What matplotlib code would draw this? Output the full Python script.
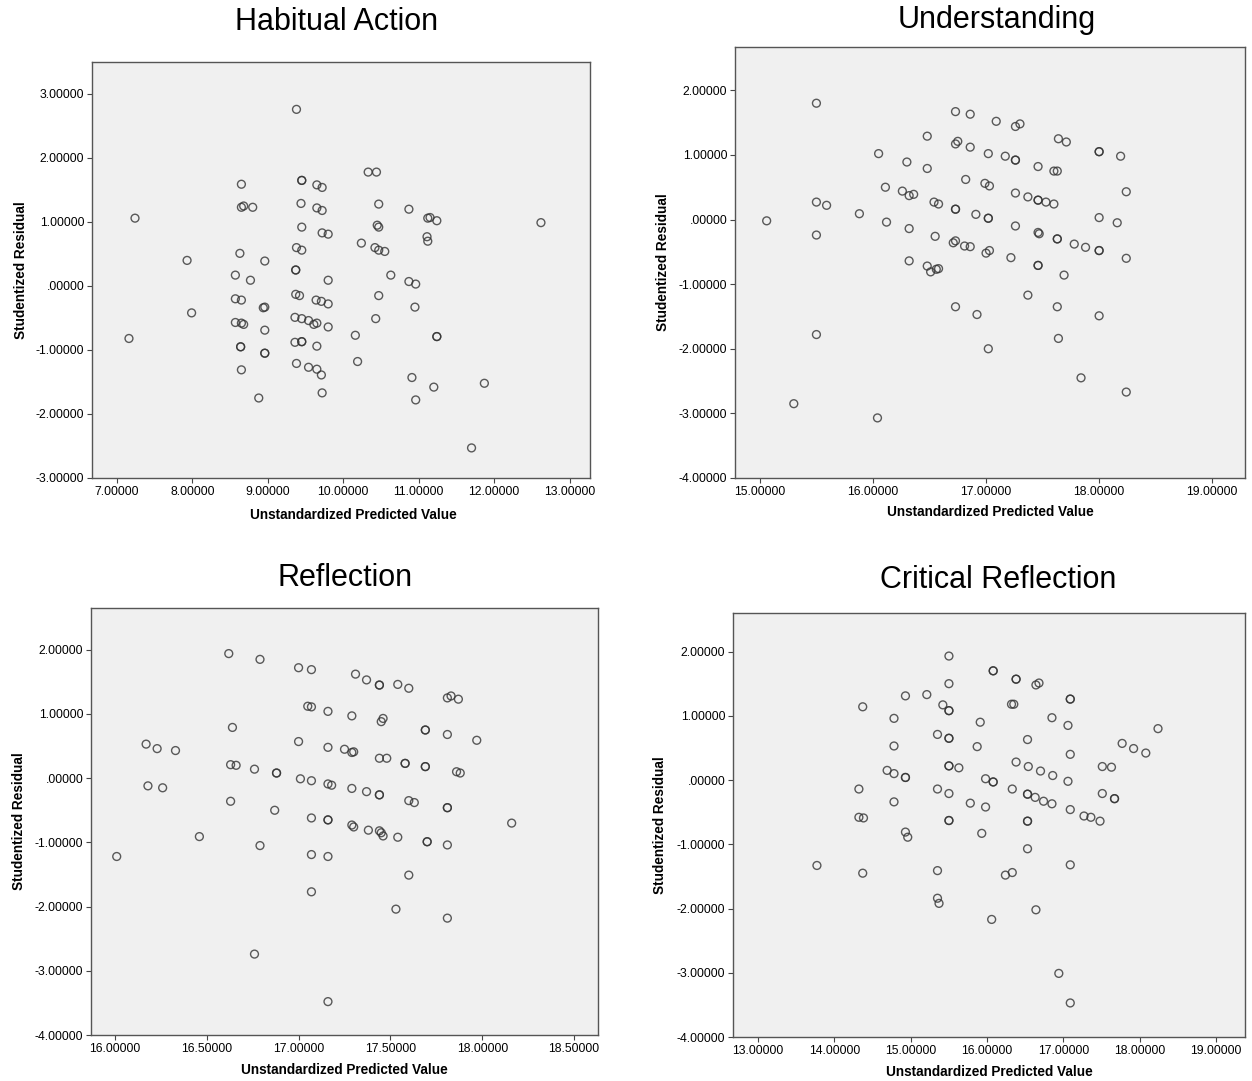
import numpy as np
import matplotlib
matplotlib.use("Agg")
import matplotlib.pyplot as plt
from matplotlib.ticker import FuncFormatter, MultipleLocator

plt.rcParams['font.family'] = ['Liberation Sans', 'DejaVu Sans']

# Habitual Action: predicted value vs studentized residual
ha_pred = [8.65, 8.65, 8.68, 8.80, 7.24, 8.63, 7.93, 8.57, 8.77, 8.57, 8.65, 7.99, 8.57, 8.65,
           8.68, 7.16, 8.64, 8.64, 8.65, 8.88, 9.38, 9.45, 9.45, 9.65, 9.72, 10.33, 10.44, 9.44,
           9.65, 9.72, 10.47, 10.87, 11.12, 9.45, 9.72, 9.80, 10.45, 10.47, 11.11, 11.12, 10.24,
           9.38, 9.45, 10.42, 10.47, 10.55, 8.96, 9.37, 9.37, 9.80, 10.63, 10.87, 10.96, 8.94,
           8.96, 9.37, 9.42, 9.64, 9.71, 9.80, 10.47, 10.95, 8.96, 9.36, 9.45, 9.54, 9.61, 9.65,
           9.80, 10.43, 10.16, 9.36, 9.45, 9.45, 9.65, 8.96, 8.96, 9.38, 9.54, 9.65, 9.71, 10.19,
           10.91, 9.72, 10.96, 11.15, 11.24, 12.62, 11.24, 11.24, 11.20, 11.87, 11.70]
ha_resid = [1.59, 1.23, 1.25, 1.23, 1.06, 0.51, 0.40, 0.17, 0.09, -0.20, -0.22, -0.42, -0.57, -0.58,
            -0.60, -0.82, -0.95, -0.95, -1.31, -1.75, 2.76, 1.65, 1.65, 1.58, 1.54, 1.78, 1.78, 1.29,
            1.22, 1.18, 1.28, 1.20, 1.06, 0.92, 0.83, 0.81, 0.95, 0.92, 0.77, 0.70, 0.67,
            0.60, 0.56, 0.60, 0.56, 0.54, 0.39, 0.25, 0.25, 0.09, 0.17, 0.07, 0.03, -0.34,
            -0.33, -0.13, -0.15, -0.22, -0.24, -0.28, -0.15, -0.33, -0.69, -0.49, -0.51, -0.54, -0.60, -0.58,
            -0.64, -0.51, -0.77, -0.88, -0.87, -0.87, -0.94, -1.05, -1.05, -1.21, -1.27, -1.30, -1.39, -1.18,
            -1.43, -1.67, -1.78, 1.07, 1.02, 0.99, -0.79, -0.79, -1.58, -1.52, -2.53]

# Understanding
un_pred = [15.50, 15.50, 15.59, 15.06, 15.88, 15.50, 15.50, 15.30, 16.73, 16.86, 17.09, 16.48,
           16.73, 16.75, 16.86, 17.02, 17.17, 16.05, 16.30, 16.48, 16.82, 16.99, 17.03, 16.11,
           16.26, 16.32, 16.36, 16.54, 16.58, 16.73, 16.73, 16.91, 17.02, 17.02, 16.12, 16.32,
           16.55, 16.71, 16.73, 16.81, 16.86, 17.00, 17.03, 16.32, 16.48, 16.51, 16.56, 16.58,
           16.73, 16.92, 17.02, 16.04, 17.26, 17.30, 17.64, 17.71, 18.00, 18.00, 18.19, 17.26,
           17.26, 17.46, 17.60, 17.63, 18.24, 17.26, 17.37, 17.46, 17.46, 17.53, 17.60, 18.00,
           18.16, 17.26, 17.46, 17.47, 17.63, 17.63, 17.78, 17.88, 18.00, 18.00, 17.22, 17.46,
           17.46, 18.24, 17.69, 17.37, 17.63, 18.00, 17.64, 17.84, 18.24]
un_resid = [1.80, 0.27, 0.22, -0.02, 0.09, -0.24, -1.78, -2.85, 1.67, 1.63, 1.52, 1.29,
            1.17, 1.21, 1.12, 1.02, 0.98, 1.02, 0.89, 0.79, 0.62, 0.56, 0.52, 0.50,
            0.44, 0.37, 0.39, 0.27, 0.24, 0.16, 0.16, 0.08, 0.02, 0.02, -0.04, -0.14,
            -0.26, -0.36, -0.33, -0.41, -0.42, -0.52, -0.48, -0.64, -0.72, -0.81, -0.77, -0.76,
            -1.35, -1.47, -2.00, -3.07, 1.44, 1.48, 1.25, 1.20, 1.05, 1.05, 0.98, 0.92,
            0.92, 0.82, 0.75, 0.75, 0.43, 0.41, 0.35, 0.30, 0.30, 0.27, 0.24, 0.03,
            -0.05, -0.10, -0.20, -0.22, -0.30, -0.30, -0.38, -0.43, -0.48, -0.48, -0.59, -0.71,
            -0.71, -0.60, -0.86, -1.17, -1.35, -1.49, -1.84, -2.45, -2.67]

# Reflection
re_pred = [16.62, 16.64, 16.17, 16.23, 16.33, 16.63, 16.66, 16.18, 16.26, 16.63, 16.46, 16.01,
           16.79, 17.00, 17.07, 17.31, 17.37, 17.05, 17.07, 17.16, 17.29, 17.00, 17.16, 17.25,
           17.29, 17.30, 16.76, 16.88, 16.88, 17.01, 17.07, 17.16, 17.18, 17.29, 17.37, 16.87,
           17.07, 17.16, 17.16, 17.29, 17.30, 17.38, 16.79, 17.07, 17.16, 17.07, 16.76, 17.16,
           17.44, 17.44, 17.54, 17.60, 17.81, 17.83, 17.87, 17.45, 17.46, 17.69, 17.69, 17.81,
           17.97, 17.44, 17.48, 17.58, 17.58, 17.69, 17.69, 17.86, 17.88, 17.44, 17.44, 17.60,
           17.63, 17.81, 17.81, 18.16, 17.44, 17.45, 17.46, 17.54, 17.70, 17.70, 17.81, 17.60,
           17.53, 17.81]
re_resid = [1.94, 0.79, 0.53, 0.46, 0.43, 0.21, 0.20, -0.12, -0.15, -0.36, -0.91, -1.22,
            1.85, 1.72, 1.69, 1.62, 1.53, 1.12, 1.11, 1.04, 0.97, 0.57, 0.48, 0.45,
            0.40, 0.41, 0.14, 0.08, 0.08, -0.01, -0.04, -0.09, -0.11, -0.16, -0.21, -0.50,
            -0.62, -0.65, -0.65, -0.73, -0.76, -0.81, -1.05, -1.19, -1.22, -1.77, -2.74, -3.48,
            1.45, 1.45, 1.46, 1.40, 1.25, 1.28, 1.23, 0.88, 0.93, 0.75, 0.75, 0.68,
            0.59, 0.31, 0.31, 0.23, 0.23, 0.18, 0.18, 0.10, 0.08, -0.26, -0.26, -0.35,
            -0.38, -0.46, -0.46, -0.70, -0.82, -0.85, -0.90, -0.92, -0.99, -0.99, -1.04, -1.51,
            -2.04, -2.18]

# Critical Reflection
cr_pred = [14.93, 14.37, 14.78, 14.78, 14.69, 14.78, 14.93, 14.93, 14.32, 14.78, 14.32, 14.38,
           14.93, 14.96, 13.77, 14.37, 15.50, 16.08, 16.08, 16.38, 16.38, 16.64, 16.68, 15.50,
           15.21, 15.42, 15.50, 15.50, 16.32, 16.35, 15.91, 15.35, 15.50, 15.50, 15.87, 16.53,
           16.38, 16.54, 16.70, 15.50, 15.50, 15.63, 15.98, 16.08, 16.08, 16.33, 16.53, 16.53,
           16.63, 15.35, 15.50, 15.78, 15.98, 15.50, 15.50, 16.53, 16.53, 15.93, 16.53, 15.35,
           16.24, 16.33, 15.35, 15.37, 16.64, 16.06, 17.09, 17.09, 16.85, 17.06, 18.24, 17.77,
           17.92, 18.08, 17.09, 17.51, 17.63, 16.86, 17.06, 17.51, 17.67, 17.67, 16.74, 16.85,
           17.09, 17.27, 17.36, 17.48, 17.09, 16.94, 17.09]
cr_resid = [1.31, 1.14, 0.96, 0.53, 0.15, 0.10, 0.04, 0.04, -0.14, -0.34, -0.58, -0.59,
            -0.81, -0.89, -1.33, -1.45, 1.93, 1.70, 1.70, 1.57, 1.57, 1.48, 1.51, 1.50,
            1.33, 1.17, 1.08, 1.08, 1.18, 1.18, 0.90, 0.71, 0.65, 0.65, 0.52, 0.63,
            0.28, 0.21, 0.14, 0.22, 0.22, 0.19, 0.02, -0.03, -0.03, -0.14, -0.22, -0.22,
            -0.27, -0.14, -0.21, -0.36, -0.42, -0.63, -0.63, -0.64, -0.64, -0.83, -1.07, -1.41,
            -1.48, -1.44, -1.84, -1.92, -2.02, -2.17, 1.26, 1.26, 0.97, 0.85, 0.80, 0.57,
            0.49, 0.42, 0.40, 0.21, 0.20, 0.07, -0.02, -0.21, -0.29, -0.29, -0.33, -0.37,
            -0.46, -0.56, -0.58, -0.64, -1.32, -3.01, -3.47]


def spss_fmt(v, pos):
    if abs(v) < 1e-9:
        return '.00000'
    return f'{v:.5f}'


W, H = 1252, 1081
fig = plt.figure(figsize=(W / 100, H / 100), dpi=100)

# (title, x, y, left/top/right/bottom in px, xlim, ylim, xstep, title centre px, xlabel centre, xlabel y)
panels = [
    ("Habitual Action", ha_pred, ha_resid, (92, 62, 590, 478), (6.67, 13.27), (-3.0, 3.5), 1.0, (337, 22), 0.524, -0.073),
    ("Understanding", un_pred, un_resid, (735, 47, 1245, 478), (14.78, 19.29), (-4.0, 2.67), 1.0, (997, 20), 0.5, -0.063),
    ("Reflection", re_pred, re_resid, (91, 608, 598, 1035), (15.87, 18.63), (-4.0, 2.65), 0.5, (345, 578), 0.5, -0.066),
    ("Critical Reflection", cr_pred, cr_resid, (733, 613, 1245, 1037), (12.67, 19.38), (-4.0, 2.6), 1.0, (998, 580), 0.5, -0.066),
]

for title, xs, ys, (l, t, r, b), xlim, ylim, xstep, (tx, ty), lx, ly in panels:
    ax = fig.add_axes([l / W, 1 - b / H, (r - l) / W, (b - t) / H])
    ax.set_facecolor('#F0F0F0')
    ax.scatter(xs, ys, s=32, facecolors='none', edgecolors='#333333', linewidths=1.0, alpha=0.8)
    ax.set_xlim(*xlim)
    ax.set_ylim(*ylim)
    ax.xaxis.set_major_locator(MultipleLocator(xstep))
    ax.yaxis.set_major_locator(MultipleLocator(1.0))
    ax.xaxis.set_major_formatter(FuncFormatter(spss_fmt))
    ax.yaxis.set_major_formatter(FuncFormatter(spss_fmt))
    ax.tick_params(labelsize=8.8, length=3.5, width=0.8, color='#444444', pad=2)
    for sp in ax.spines.values():
        sp.set_color('#555555')
        sp.set_linewidth(1.0)
    ax.set_xlabel('Unstandardized Predicted Value', fontsize=9.8, fontweight='bold')
    ax.set_ylabel('Studentized Residual', fontsize=9.8, fontweight='bold')
    ax.xaxis.set_label_coords(lx, ly)
    ax.yaxis.set_label_coords(-0.128, 0.5)
    fig.text(tx / W, 1 - ty / H, title, fontsize=22, ha='center', va='center')

fig.savefig('out.png', dpi=100)
